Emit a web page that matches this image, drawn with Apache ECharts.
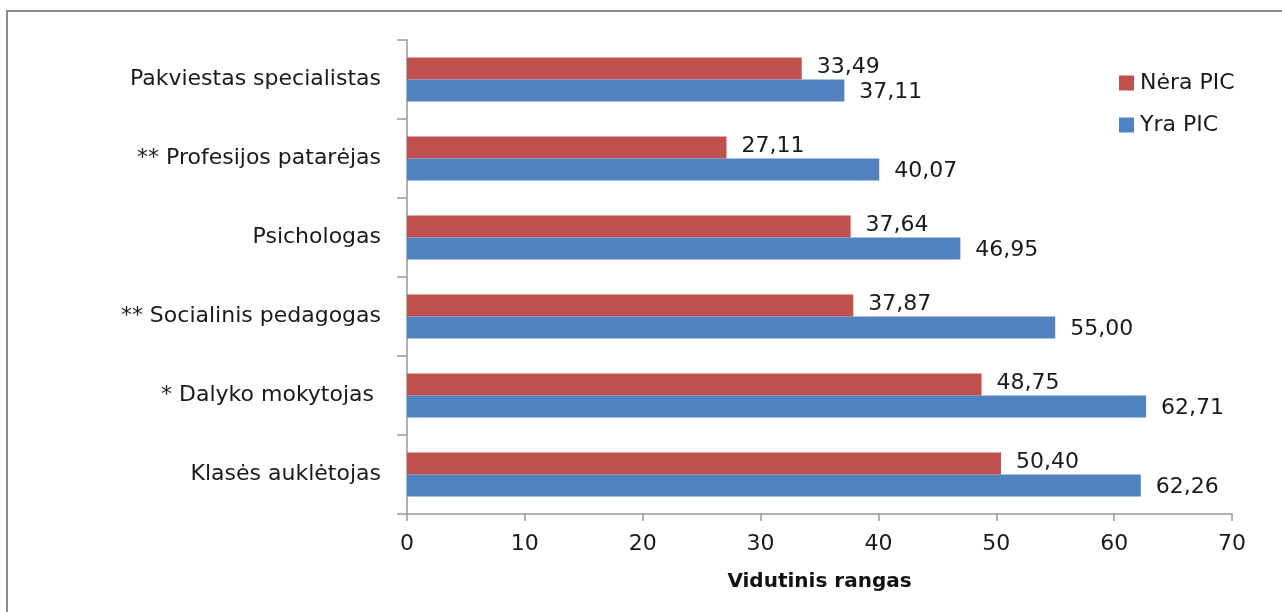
<!DOCTYPE html>
<html>
<head>
<meta charset="utf-8">
<script src="https://cdn.jsdelivr.net/npm/echarts@6/dist/echarts.min.js"></script>
<style>
  html, body { margin: 0; padding: 0; background: #fff; }
  #chart { width: 1282px; height: 612px; }
</style>
</head>
<body>
<div id="chart"></div>
<script>
  // kategorijos (iš apačios į viršų)
  var categories = [
    'Klasės auklėtojas',
    '* Dalyko mokytojas ',
    '** Socialinis pedagogas',
    'Psichologas',
    '** Profesijos patarėjas',
    'Pakviestas specialistas'
  ];
  var neraPic = [50.40, 48.75, 37.87, 37.64, 27.11, 33.49];
  var yraPic = [62.26, 62.71, 55.00, 46.95, 40.07, 37.11];
  var xTicks = [0, 10, 20, 30, 40, 50, 60, 70];

  var font = '"DejaVu Sans", "Noto Sans", sans-serif';

  function fmt(p) {
    return p.value.toFixed(2).replace('.', ',');
  }

  var chart = echarts.init(document.getElementById('chart'));
  chart.setOption({
    animation: false,
    textStyle: { fontFamily: font },
    graphic: [{
      type: 'rect',
      shape: { x: 7, y: 11, width: 1290, height: 620 },
      style: { fill: 'none', stroke: '#8c8c8c', lineWidth: 2 },
      silent: true
    }],
    legend: {
      orient: 'vertical',
      left: 1114,
      top: 67,
      itemWidth: 15,
      itemHeight: 15,
      itemGap: 20,
      icon: 'rect',
      data: ['Nėra PIC', 'Yra PIC'],
      textStyle: { fontSize: 22, color: '#1a1a1a', fontFamily: font, padding: [0, 0, 0, 1] }
    },
    grid: { left: 407, right: 50, top: 40, bottom: 98 },
    xAxis: {
      type: 'value',
      min: xTicks[0],
      max: xTicks[xTicks.length - 1],
      interval: 10,
      name: 'Vidutinis rangas',
      nameLocation: 'middle',
      nameGap: 58,
      nameTextStyle: { fontSize: 20, fontWeight: 'bold', color: '#111', fontFamily: font },
      axisLine: { show: true, lineStyle: { color: '#999', width: 1.5 } },
      axisTick: { show: true, length: 7, lineStyle: { color: '#999', width: 1.5 } },
      axisLabel: { fontSize: 22, color: '#1a1a1a', margin: 19 },
      splitLine: { show: false }
    },
    yAxis: {
      type: 'category',
      data: categories,
      axisLine: { show: true, lineStyle: { color: '#999', width: 1.5 } },
      axisTick: { show: true, length: 10, inside: false, lineStyle: { color: '#999', width: 1.5 } },
      axisLabel: { fontSize: 22, color: '#1a1a1a', margin: 26 }
    },
    series: [
      {
        name: 'Nėra PIC',
        type: 'bar',
        data: neraPic,
        barWidth: 22,
        barGap: '0%',
        itemStyle: { color: '#c0504d' },
        label: { show: true, position: 'right', distance: 15, fontSize: 22, color: '#1a1a1a', offset: [0, -1], formatter: fmt }
      },
      {
        name: 'Yra PIC',
        type: 'bar',
        data: yraPic,
        barWidth: 22,
        barGap: '0%',
        itemStyle: { color: '#5083c0' },
        label: { show: true, position: 'right', distance: 15, fontSize: 22, color: '#1a1a1a', offset: [0, 2], formatter: fmt }
      }
    ]
  });
</script>
</body>
</html>
